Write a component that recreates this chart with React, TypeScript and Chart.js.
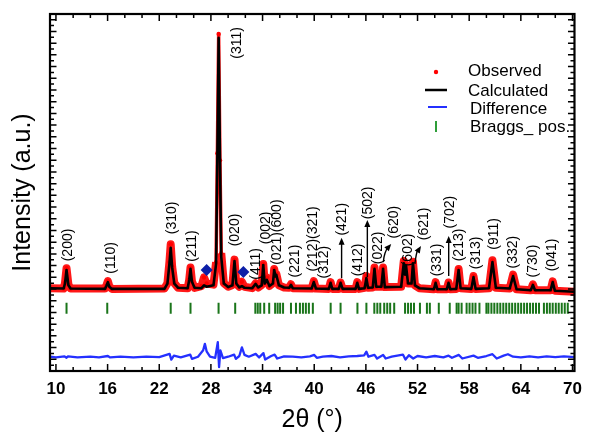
import { useEffect, useRef } from "react";
import { Chart, registerables } from "chart.js";

Chart.register(...registerables);

const FONT = '"Liberation Sans", Arial, sans-serif';

// x-axis range and tick labels
const xRange = [9.31, 70.23];
const xTickLabels = [10, 16, 22, 28, 34, 40, 46, 52, 58, 64, 70];
const yRange = [0, 1000];

// profile (2θ) with calculated and observed intensities
const profileTheta = [
  9.31, 10.9, 11.05, 11.23, 11.45, 11.7, 15.7, 15.85, 16.03, 16.2, 16.5, 22.6, 22.95, 23.18, 23.33, 23.5, 23.75,
  24.2, 25.3, 25.48, 25.63, 25.8, 26.1, 26.9, 27.2, 27.5, 28.3, 28.6, 28.75, 28.9, 29.05, 29.2, 29.5, 30.0,
  30.5, 30.74, 30.95, 31.3, 31.6, 31.9, 32.8, 33.2, 33.5, 33.9, 34.08, 34.25, 34.5, 34.8, 35.2, 35.35, 35.5,
  35.6, 35.9, 36.5, 37.1, 37.3, 37.5, 39.7, 39.95, 40.2, 41.7, 41.9, 42.1, 42.85, 43.06, 43.3, 44.8, 45.0,
  45.2, 45.85, 46.06, 46.25, 46.8, 47.0, 47.2, 47.8, 48.0, 48.2, 50.1, 50.4, 50.55, 50.67, 50.9, 51.3, 51.47,
  51.7, 52.2, 53.9, 54.1, 54.3, 55.4, 55.6, 55.8, 56.5, 56.77, 57.0, 58.25, 58.5, 58.75, 60.3, 60.7, 61.1,
  62.7, 63.1, 63.5, 65.15, 65.4, 65.65, 67.45, 67.7, 67.95, 70.23,
];
const calculated = [
  232, 231, 245, 283, 240, 231, 230, 238, 249, 236, 230, 230, 245, 300, 345, 290, 245,
  233, 232, 255, 286, 250, 233, 232, 240, 236, 240, 300, 600, 933, 600, 320, 245, 235,
  240, 308, 245, 234, 238, 233, 232, 244, 234, 240, 297, 245, 255, 238, 245, 283, 265,
  269, 240, 234, 233, 241, 232, 231, 249, 231, 230, 247, 230, 230, 247, 230, 230, 247,
  230, 232, 260, 233, 234, 286, 236, 236, 286, 235, 236, 302, 270, 294, 245, 245, 302,
  240, 232, 229, 247, 229, 229, 247, 229, 230, 283, 232, 230, 263, 230, 232, 305, 233,
  231, 266, 229, 226, 241, 226, 226, 249, 225, 222,
];
const observed = [
  232, 231, 247, 288, 242, 231, 231, 239, 252, 237, 230, 231, 246, 305, 355, 292, 246,
  233, 232, 256, 290, 251, 233, 238, 262, 245, 242, 305, 610, 944, 590, 330, 246, 236,
  241, 312, 244, 236, 250, 236, 232, 246, 234, 241, 300, 247, 262, 238, 246, 286, 266,
  272, 240, 234, 233, 243, 232, 231, 252, 231, 230, 249, 230, 230, 248, 230, 230, 249,
  230, 233, 266, 233, 234, 290, 236, 236, 290, 235, 236, 308, 272, 298, 245, 245, 306,
  240, 232, 229, 249, 229, 229, 248, 229, 230, 286, 232, 230, 266, 230, 232, 310, 233,
  231, 270, 229, 226, 243, 226, 226, 251, 225, 222,
];

// difference curve
const diffTheta = [
  9.31, 10, 11, 11.23, 11.4, 12.5, 14, 15, 16.03, 16.3, 17.5, 19, 20.5, 22, 23.2, 23.4, 23.7, 24.5, 25.6,
  25.8, 26.5, 27.1, 27.3, 27.5, 27.9, 28.5, 28.8, 28.95, 29.1, 29.4, 30, 30.7, 30.9, 31.3, 31.6, 31.9, 32.4,
  33.2, 33.6, 34.1, 34.3, 35.0, 35.4, 35.7, 36.5, 37.5, 38.5, 39.5, 40, 40.3, 41, 42, 43, 44, 45, 45.8,
  46.06, 46.3, 47, 47.3, 48, 48.3, 49, 50.3, 50.6, 51, 51.5, 52, 53, 54, 55, 55.6, 56, 56.8, 57.2, 58.5,
  59, 60, 60.7, 61.2, 62, 62.5, 63.1, 64, 65, 66, 67, 68, 69, 70.23,
];
const difference = [
  40, 38, 41, 37, 41, 38, 40, 38, 42, 38, 40, 38, 40, 39, 48, 32, 43, 38, 46,
  34, 40, 58, 76, 55, 40, 37, 81, 11, 58, 36, 40, 46, 34, 42, 66, 45, 40,
  48, 38, 50, 32, 42, 46, 35, 41, 40, 38, 41, 45, 37, 40, 42, 38, 41, 42, 44,
  54, 40, 45, 35, 45, 35, 40, 46, 32, 44, 35, 42, 38, 42, 38, 43, 37, 45, 35, 43,
  37, 42, 47, 35, 43, 47, 40, 38, 41, 38, 41, 39, 41, 39,
];

// Bragg positions
const braggPositions = [
  11.23, 15.96, 23.33, 25.63, 28.89, 30.82, 33.16, 33.44, 33.73, 34.19, 34.77, 35.46, 35.75, 36.04, 36.38,
  37.3, 37.88, 38.34, 38.69, 39.03, 39.38, 39.84, 41.91, 43.06, 45.02, 46.06, 46.98, 47.33, 47.67, 48.13,
  48.48, 48.82, 49.29, 50.55, 50.9, 51.24, 51.59, 52.28, 53.09, 53.43, 54.47, 55.74, 56.54, 56.77, 57.12,
  57.7, 58.04, 58.39, 58.73, 59.19, 60.0, 60.23, 60.58, 60.92, 61.27, 61.61, 61.96, 62.3, 62.65, 62.99,
  63.34, 63.69, 64.03, 64.38, 64.72, 65.07, 65.41, 65.76, 66.11, 66.68, 67.03, 67.36, 67.7, 68.06, 68.4,
  68.75, 69.1, 69.45,
];
const braggLevel = 176;

// impurity markers
const impurityTheta = [27.5, 31.77];
const impurityLevel = [283, 277];

// hkl labels
const hklText = [
  "(200)", "(110)", "(310)", "(211)", "(311)", "(020)", "(411)", "(002)", "(021)(600)", "(221)",
  "(212)(321)", "(312)", "(421)", "(412)", "(502)", "(022)", "(620)", "(602)", "(621)", "(331)",
  "(702)", "(213)", "(313)", "(911)", "(332)", "(730)", "(041)",
];
const hklTheta = [
  11.38, 16.45, 23.48, 25.78, 31.1, 30.85, 33.27, 34.42, 35.69, 37.76,
  39.84, 41.11, 43.29, 45.14, 46.29, 47.44, 49.29, 50.9, 52.74, 54.24,
  55.74, 56.89, 58.85, 60.92, 63.11, 65.41, 67.6,
];
const hklLevel = [
  353, 317, 429, 350, 919, 395, 300, 401, 389, 308,
  370, 305, 425, 311, 471, 345, 417, 339, 412, 311,
  445, 353, 331, 384, 333, 308, 325,
];

// arrows (from peak to label)
const arrowFromTheta = [43.18, 46.17, 55.62, 48.02, 51.7];
const arrowFromLevel = [260, 263, 266, 305, 300];
const arrowToTheta = [43.18, 46.17, 55.62, 48.94, 52.4];
const arrowToLevel = [373, 423, 378, 356, 350];

const legendNames = ["Observed", "Calculated", "Difference", "Braggs_ pos."];

const RED = "rgba(255,12,12,0.95)";
const BLUE = "#2430ff";
const GREEN = "#1a751a";
const NAVY = "#0c1fa8";

function drawArrowHead(ctx: CanvasRenderingContext2D, x: number, y: number, dx: number, dy: number) {
  const len = Math.hypot(dx, dy) || 1;
  const ux = dx / len, uy = dy / len;
  const L = 7, W = 3;
  ctx.beginPath();
  ctx.moveTo(x, y);
  ctx.lineTo(x - ux * L - uy * W, y - uy * L + ux * W);
  ctx.lineTo(x - ux * L + uy * W, y - uy * L - ux * W);
  ctx.closePath();
  ctx.fill();
}

const decorPlugin = {
  id: "decor",
  afterDraw(chart: any) {
    const { ctx, chartArea: a, scales } = chart;
    const xs = scales.x, ys = scales.y;
    ctx.save();
    ctx.strokeStyle = "#000";
    ctx.fillStyle = "#000";

    // tick marks (inward)
    ctx.lineWidth = 1.5;
    ctx.beginPath();
    for (let v = 10; v <= 70; v += 2) {
      const px = xs.getPixelForValue(v);
      const len = (v - 10) % 6 === 0 ? 7 : 4;
      ctx.moveTo(px, a.bottom); ctx.lineTo(px, a.bottom - len);
      ctx.moveTo(px, a.top); ctx.lineTo(px, a.top + len);
    }
    for (let i = 0; i * 16.4 <= yRange[1]; i++) {
      const py = ys.getPixelForValue(i * 16.4);
      const len = i % 2 === 0 ? 6.5 : 4;
      ctx.moveTo(a.left, py); ctx.lineTo(a.left + len, py);
      ctx.moveTo(a.right, py); ctx.lineTo(a.right - len, py);
    }
    ctx.stroke();

    // frame
    ctx.lineWidth = 2.2;
    ctx.strokeRect(a.left, a.top, a.right - a.left, a.bottom - a.top);

    // hkl labels
    ctx.font = `14px ${FONT}`;
    ctx.textAlign = "center";
    ctx.textBaseline = "middle";
    for (let i = 0; i < hklText.length; i++) {
      const x = xs.getPixelForValue(hklTheta[i]);
      const y = ys.getPixelForValue(hklLevel[i]);
      ctx.save();
      ctx.translate(x, y);
      ctx.rotate(-Math.PI / 2);
      ctx.fillText(hklText[i], 0, 0);
      ctx.restore();
    }

    // arrows
    ctx.lineWidth = 1.4;
    for (let i = 0; i < arrowFromTheta.length; i++) {
      const x0 = xs.getPixelForValue(arrowFromTheta[i]);
      const y0 = ys.getPixelForValue(arrowFromLevel[i]);
      const x1 = xs.getPixelForValue(arrowToTheta[i]);
      const y1 = ys.getPixelForValue(arrowToLevel[i]);
      ctx.beginPath();
      ctx.moveTo(x0, y0);
      if (Math.abs(x1 - x0) < 0.5) {
        ctx.lineTo(x1, y1 + 5);
        ctx.stroke();
        drawArrowHead(ctx, x1, y1, 0, -1);
      } else {
        const cx = x0 + 1, cy = y1 + 8;
        ctx.quadraticCurveTo(cx, cy, x1 - 3, y1 + 3);
        ctx.stroke();
        drawArrowHead(ctx, x1, y1, x1 - cx, y1 - cy);
      }
    }

    // legend
    const lx = 468;
    const rows = [71, 91, 109, 127];
    ctx.font = `17px ${FONT}`;
    ctx.textAlign = "left";
    ctx.textBaseline = "middle";
    ctx.fillStyle = "#000";
    ctx.fillText(legendNames[0], lx, rows[0]);
    ctx.fillText(legendNames[1], lx, rows[1]);
    ctx.fillText(legendNames[2], lx + 2, rows[2]);
    ctx.fillText(legendNames[3], lx + 2, rows[3]);
    ctx.fillStyle = "#ff0000";
    ctx.beginPath();
    ctx.arc(436, rows[0] + 1, 2.2, 0, Math.PI * 2);
    ctx.fill();
    ctx.strokeStyle = "#000";
    ctx.lineWidth = 2.5;
    ctx.beginPath(); ctx.moveTo(425, rows[1] - 1); ctx.lineTo(447, rows[1] - 1); ctx.stroke();
    ctx.strokeStyle = BLUE;
    ctx.lineWidth = 2;
    ctx.beginPath(); ctx.moveTo(428, rows[2] - 2); ctx.lineTo(447, rows[2] - 2); ctx.stroke();
    ctx.strokeStyle = "#2f9e3a";
    ctx.lineWidth = 2;
    ctx.beginPath(); ctx.moveTo(436, rows[3] - 6); ctx.lineTo(436, rows[3] + 5); ctx.stroke();

    ctx.restore();
  },
};

export default function App() {
  const canvasRef = useRef<HTMLCanvasElement | null>(null);

  useEffect(() => {
    if (!canvasRef.current) return;
    Chart.defaults.font.family = FONT;
    const chart = new Chart(canvasRef.current, {
      type: "scatter",
      data: {
        datasets: [
          {
            label: "Calculated",
            data: profileTheta.map((t, i) => ({ x: t, y: calculated[i] })),
            showLine: true,
            borderColor: "#000",
            borderWidth: 2.6,
            borderJoinStyle: "round",
            pointRadius: 0,
            order: 1,
          },
          {
            label: "Observed",
            data: profileTheta.map((t, i) => ({ x: t, y: observed[i] })),
            showLine: true,
            borderColor: RED,
            backgroundColor: "#ff0000",
            borderWidth: 8,
            borderJoinStyle: "round",
            segment: {
              borderWidth: (c: any) => (Math.abs(c.p1.y - c.p0.y) > 45 ? 3.5 : 8),
            },
            pointRadius: 2.2,
            pointBorderWidth: 0,
            order: 2,
          },
          {
            label: "Difference",
            data: diffTheta.map((t, i) => ({ x: t, y: difference[i] })),
            showLine: true,
            borderColor: BLUE,
            borderWidth: 2.3,
            borderJoinStyle: "round",
            pointRadius: 0,
            order: 3,
          },
          {
            label: "Braggs_ pos.",
            data: braggPositions.map((t) => ({ x: t, y: braggLevel })),
            showLine: false,
            pointStyle: "line",
            rotation: 90,
            radius: 5.5,
            borderColor: GREEN,
            borderWidth: 2,
            order: 4,
          },
          {
            label: "impurity",
            data: impurityTheta.map((t, i) => ({ x: t, y: impurityLevel[i] })),
            showLine: false,
            pointStyle: "rectRot",
            radius: 6,
            backgroundColor: NAVY,
            borderColor: NAVY,
            borderWidth: 0,
            order: 0,
          },
        ],
      },
      options: {
        responsive: false,
        animation: false,
        events: [],
        layout: { padding: { top: 14, right: 11, left: 0, bottom: 0 } },
        plugins: { legend: { display: false }, tooltip: { enabled: false }, title: { display: false } },
        scales: {
          x: {
            type: "linear",
            min: xRange[0],
            max: xRange[1],
            afterBuildTicks: (s: any) => {
              s.ticks = xTickLabels.map((v) => ({ value: v }));
            },
            afterFit: (s: any) => {
              s.height = 64;
            },
            grid: { display: false, drawTicks: false, tickLength: 0 },
            border: { display: false },
            ticks: {
              autoSkip: false,
              maxRotation: 0,
              padding: 8,
              color: "#000",
              font: { size: 17, weight: "bold", family: FONT },
            },
            title: {
              display: true,
              text: "2θ (°)",
              color: "#000",
              font: { size: 25, family: FONT },
              padding: { top: 0, bottom: 0 },
            },
          },
          y: {
            type: "linear",
            min: yRange[0],
            max: yRange[1],
            afterFit: (s: any) => {
              s.width = 50;
            },
            grid: { display: false, drawTicks: false, tickLength: 0 },
            border: { display: false },
            ticks: { display: false },
            title: {
              display: true,
              text: "Intensity (a.u.)",
              color: "#000",
              font: { size: 25, family: FONT },
              padding: { top: 8, bottom: 0 },
            },
          },
        },
      },
      plugins: [decorPlugin],
    } as any);
    return () => chart.destroy();
  }, []);

  return (
    <div style={{ position: "absolute", left: 0, top: 0, width: 590, height: 435, background: "#fff" }}>
      <canvas ref={canvasRef} width={590} height={435} style={{ display: "block" }} />
    </div>
  );
}
